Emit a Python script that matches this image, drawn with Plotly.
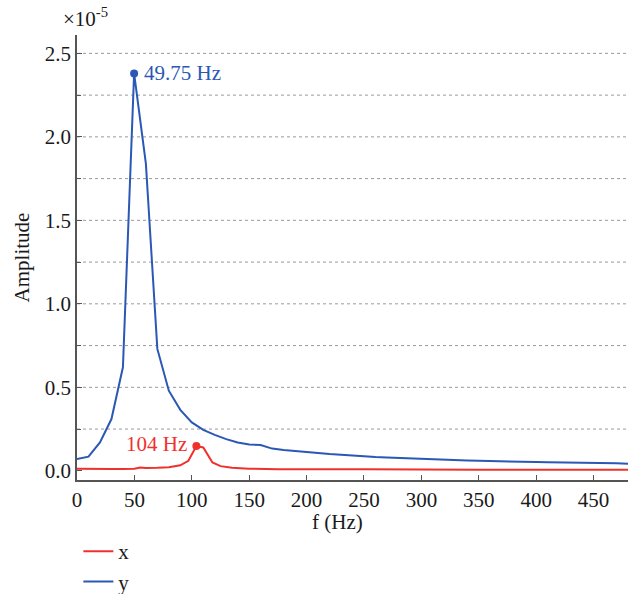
import plotly.graph_objects as go

# Frequencies (Hz) and amplitudes (x 1e-5)
freq_y = [0, 10, 20, 30, 40, 49.75, 60, 70, 80, 90, 100, 110, 120, 130, 140, 150, 160, 170,
          180, 190, 200, 210, 220, 230, 240, 250, 260, 270, 280, 290, 300, 310, 320, 330, 340,
          350, 360, 370, 380, 390, 400, 410, 420, 430, 440, 450, 460, 470, 480]
amp_y = [0.07, 0.085, 0.17, 0.31, 0.62, 2.38, 1.84, 0.73, 0.48, 0.365, 0.29, 0.245, 0.215, 0.19,
         0.17, 0.158, 0.155, 0.133, 0.125, 0.118, 0.112, 0.106, 0.1, 0.096, 0.09, 0.086, 0.082,
         0.079, 0.076, 0.073, 0.07, 0.068, 0.066, 0.064, 0.062, 0.06, 0.058, 0.055, 0.054, 0.053,
         0.053, 0.052, 0.051, 0.051, 0.05, 0.05, 0.049, 0.046, 0.042]

freq_x = [0, 10, 20, 30, 40, 50, 55, 60, 70, 80, 90, 97, 104, 110, 118, 125, 135, 150, 175,
          200, 216, 225, 250, 300, 315, 325, 350, 400, 450, 480]
amp_x = [0.012, 0.013, 0.012, 0.011, 0.011, 0.012, 0.02, 0.017, 0.018, 0.022, 0.033, 0.06,
         0.148, 0.14, 0.05, 0.028, 0.018, 0.013, 0.01, 0.01, 0.014, 0.01, 0.009, 0.008, 0.004,
         0.008, 0.007, 0.007, 0.007, 0.007]

peak_y = (49.75, 2.38, "49.75 Hz")
peak_x = (104, 0.148, "104 Hz")

grid_vals = [0.25, 0.5, 0.75, 1.0, 1.25, 1.5, 1.75, 2.0, 2.25, 2.5]
y_ticks = [0.0, 0.5, 1.0, 1.5, 2.0, 2.5]
x_ticks = [0, 50, 100, 150, 200, 250, 300, 350, 400, 450]

RED = "#f0302c"
BLUE = "#2a58b4"
FONT = "Liberation Serif"
TXT = "#1a1a1a"
FS = 21

fig = go.Figure()
fig.add_trace(go.Scatter(x=freq_x, y=amp_x, mode="lines", name="x",
                         line=dict(color=RED, width=2)))
fig.add_trace(go.Scatter(x=freq_y, y=amp_y, mode="lines", name="y",
                         line=dict(color=BLUE, width=2)))
fig.add_trace(go.Scatter(x=[peak_y[0]], y=[peak_y[1]], mode="markers", showlegend=False,
                         marker=dict(color=BLUE, size=8)))
fig.add_trace(go.Scatter(x=[peak_x[0]], y=[peak_x[1]], mode="markers", showlegend=False,
                         marker=dict(color=RED, size=8)))

for g in grid_vals:
    fig.add_shape(type="line", xref="paper", x0=0, x1=1, yref="y", y0=g, y1=g,
                  line=dict(color="#9a9a9a", width=1, dash="3px,3px"), layer="below")

fig.add_annotation(x=peak_y[0], y=peak_y[1], text=peak_y[2], showarrow=False,
                   xanchor="left", xshift=8, font=dict(color=BLUE, size=FS, family=FONT))
fig.add_annotation(x=peak_x[0], y=peak_x[1], text=peak_x[2], showarrow=False,
                   xanchor="right", xshift=-7, yshift=2, font=dict(color=RED, size=FS, family=FONT))
fig.add_annotation(xref="paper", yref="paper", x=0.015, y=1.005, text="×10<sup>-5</sup>",
                   showarrow=False, xanchor="center", yanchor="bottom",
                   font=dict(color=TXT, size=FS, family=FONT))

# axis titles
fig.add_annotation(xref="paper", yref="paper", x=0.472, y=-0.095, text="f (Hz)",
                   showarrow=False, xanchor="center", yanchor="middle",
                   font=dict(color=TXT, size=FS, family=FONT))
fig.add_annotation(xref="paper", yref="paper", x=-0.1, y=0.5, text="Amplitude", textangle=-90,
                   showarrow=False, xanchor="center", yanchor="middle",
                   font=dict(color=TXT, size=FS, family=FONT))

axis_common = dict(showline=True, linecolor="#555", linewidth=1.5, ticks="inside",
                   tickcolor="#555", ticklen=5, tickwidth=1.2, showgrid=False, zeroline=False,
                   tickfont=dict(size=FS, family=FONT, color=TXT))

fig.update_xaxes(range=[0, 480], tickvals=x_ticks, automargin=False, **axis_common)
fig.update_yaxes(range=[-0.055, 2.61], tickvals=y_ticks, tickformat=".1f", automargin=False,
                 minor=dict(tickvals=grid_vals, ticks="inside", ticklen=4, tickcolor="#555"),
                 **axis_common)

fig.update_layout(
    width=632, height=594, autosize=False,
    margin=dict(l=77, r=4, t=35, b=114, autoexpand=False),
    plot_bgcolor="white", paper_bgcolor="white",
    font=dict(family=FONT, color=TXT),
    legend=dict(xref="container", yref="container", x=0.124, y=0.106,
                xanchor="left", yanchor="top", orientation="v",
                font=dict(size=FS, family=FONT, color=TXT), bgcolor="rgba(0,0,0,0)",
                tracegroupgap=0),
)

fig.write_html("out.html")
